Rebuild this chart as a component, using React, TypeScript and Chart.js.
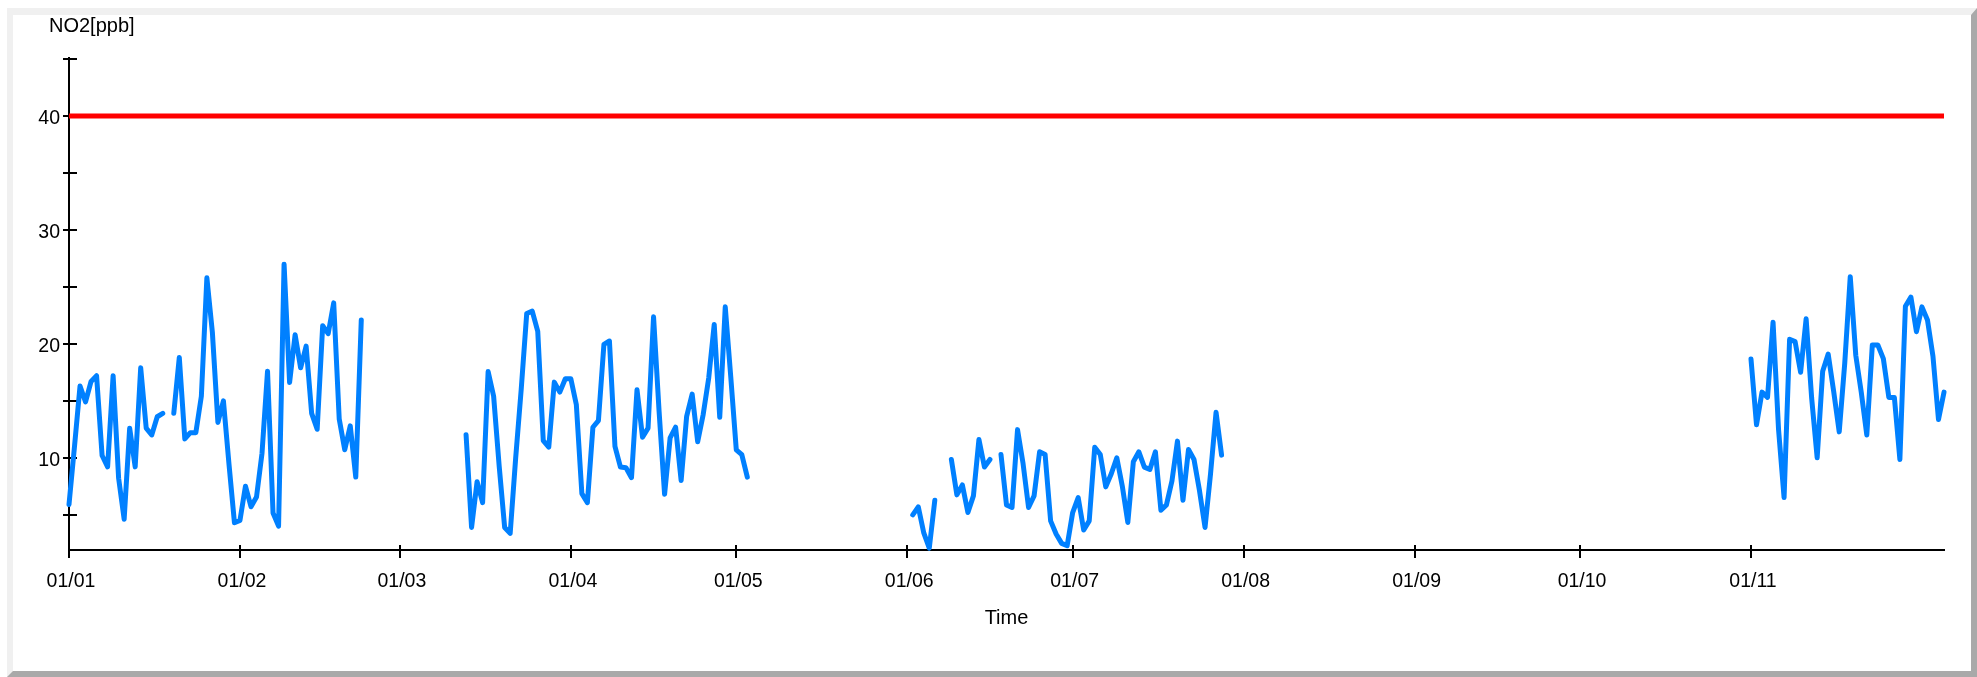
import { useEffect, useRef } from 'react';
import { Chart, registerables } from 'chart.js';

Chart.register(...registerables);

// ---- axis definitions ----
const monthStartDays = [0, 31, 60, 91, 121, 152, 182, 213, 244, 274, 305];
const monthLabels = ['01/01', '01/02', '01/03', '01/04', '01/05', '01/06', '01/07', '01/08', '01/09', '01/10', '01/11'];
const yTickValues = [5, 10, 15, 20, 25, 30, 35, 40, 45];
const yMin = 1.9;
const yMax = 45.1;
const lastDay = 340;
const limitValue = 40;

// ---- NO2 daily values (day index from 01/01), in contiguous segments ----
const segmentStarts = [0, 19, 72, 153, 160, 169, 305];

const segJan = [5.9, 11.0, 16.3, 14.9, 16.7, 17.2, 10.2, 9.2, 17.2, 8.2, 4.6, 12.6, 9.2, 17.9, 12.6, 12.0, 13.6, 13.9];
const segJanMar = [13.9, 18.8, 11.65, 12.2, 12.2, 15.4, 25.8, 21.0, 13.1, 15.0, 9.5, 4.3, 4.5, 7.5, 5.7, 6.55, 10.4, 17.6, 5.15, 4.0,
  27.0, 16.6, 20.8, 17.9, 19.8, 13.9, 12.5, 21.6, 20.9, 23.6, 13.4, 10.7, 12.8, 8.3, 22.1];
const segMarMay = [12.03, 3.88, 7.9, 6.06, 17.57, 15.4, 9.3, 3.88, 3.36, 10.0,
  16.0, 22.67, 22.87, 21.1, 11.5, 10.93, 16.64, 15.76, 16.93, 16.93,
  14.65, 6.85, 6.06, 12.68, 13.26, 19.96, 20.25, 11.0, 9.18, 9.12,
  8.25, 15.97, 11.8, 12.6, 22.37, 14.1, 6.79, 11.74, 12.68, 8.01,
  13.64, 15.59, 11.4, 13.8, 17.0, 21.7, 13.55, 23.25, 17.1, 10.7,
  10.28, 8.3];
const segJun1 = [4.99, 5.69, 3.4, 2.07, 6.27];
const segJun2 = [9.85, 6.74, 7.61, 5.19, 6.65, 11.6, 9.18, 9.85];
const segJunJul = [10.29, 5.86, 5.63, 12.47, 9.5, 5.63, 6.65, 10.52, 10.29, 4.46,
  3.3, 2.48, 2.28, 5.19, 6.5, 3.65, 4.46, 10.93, 10.29, 7.44,
  8.6, 10.0, 7.5, 4.32, 9.65, 10.52, 9.18, 8.97, 10.52, 5.39,
  5.86, 7.96, 11.46, 6.27, 10.72, 9.85, 7.1, 3.88, 8.6, 14.0,
  10.23];
const segNovDec = [18.67, 12.9, 15.76, 15.3, 21.9, 12.47, 6.5, 20.4, 20.2, 17.5,
  22.2, 15.24, 10.0, 17.6, 19.1, 15.8, 12.27, 18.3, 25.9, 19.0,
  15.75, 12.0, 19.9, 19.9, 18.7, 15.3, 15.3, 9.85, 23.3, 24.1,
  21.07, 23.25, 22.1, 18.9, 13.35, 15.76];

const segmentValues = [segJan, segJanMar, segMarMay, segJun1, segJun2, segJunJul, segNovDec];

function buildPoints() {
  const pts: any[] = [];
  segmentStarts.forEach((start, i) => {
    if (i > 0) pts.push({ x: start - 0.5, y: null });
    segmentValues[i].forEach((v, j) => pts.push({ x: start + j, y: v }));
  });
  return pts;
}

const FONT = '"Liberation Sans", Arial, Helvetica, sans-serif';

const axisDecor = {
  id: 'axisDecor',
  beforeDatasetsDraw(chart: any) {
    const { ctx, chartArea, scales } = chart;
    const xs = scales.x;
    const ys = scales.y;
    ctx.save();
    ctx.strokeStyle = '#000';
    ctx.lineWidth = 2;
    ctx.beginPath();
    yTickValues.forEach((v) => {
      const py = Math.round(ys.getPixelForValue(v));
      ctx.moveTo(chartArea.left - 6, py);
      ctx.lineTo(chartArea.left + 8, py);
    });
    monthStartDays.forEach((d) => {
      const px = Math.round(xs.getPixelForValue(d));
      ctx.moveTo(px, chartArea.bottom - 5);
      ctx.lineTo(px, chartArea.bottom + 8);
    });
    ctx.stroke();
    ctx.restore();
  },
  afterDraw(chart: any) {
    const { ctx, chartArea } = chart;
    ctx.save();
    ctx.fillStyle = '#000';
    ctx.font = '20px ' + FONT;
    ctx.textAlign = 'left';
    ctx.textBaseline = 'alphabetic';
    ctx.fillText('NO2[ppb]', chartArea.left - 20, chartArea.top - 26.5);
    ctx.restore();
  },
};

export default function App() {
  const canvasRef = useRef<HTMLCanvasElement | null>(null);

  useEffect(() => {
    if (!canvasRef.current) return;
    const chart = new Chart(canvasRef.current, {
      type: 'line',
      data: {
        datasets: [
          {
            label: 'NO2',
            data: buildPoints(),
            borderColor: '#0080ff',
            backgroundColor: '#0080ff',
            borderWidth: 5,
            pointRadius: 0,
            borderJoinStyle: 'round',
            borderCapStyle: 'round',
            spanGaps: false,
            tension: 0,
            clip: false,
          } as any,
          {
            label: 'Limit',
            data: [{ x: 0, y: limitValue }, { x: lastDay, y: limitValue }],
            borderColor: '#ff0000',
            backgroundColor: '#ff0000',
            borderWidth: 5,
            pointRadius: 0,
            borderCapStyle: 'butt',
            clip: false,
          } as any,
        ],
      },
      options: {
        animation: false,
        responsive: true,
        maintainAspectRatio: false,
        layout: { padding: { left: 29, top: 58, right: 33, bottom: 47 } },
        plugins: {
          legend: { display: false },
          tooltip: { enabled: false },
          title: { display: false },
        },
        scales: {
          x: {
            type: 'linear',
            min: 0,
            max: lastDay,
            grid: { display: false, drawTicks: false },
            border: { display: true, color: '#000', width: 2 },
            afterBuildTicks: (scale: any) => {
              scale.ticks = monthStartDays.map((v) => ({ value: v }));
            },
            afterFit: (scale: any) => {
              scale.height = 80;
            },
            ticks: {
              autoSkip: false,
              maxRotation: 0,
              minRotation: 0,
              padding: 20,
              labelOffset: 2,
              color: '#000',
              font: { family: FONT, size: 19.5 },
              callback: (value: any) => {
                const idx = monthStartDays.indexOf(Number(value));
                return idx >= 0 ? monthLabels[idx] : '';
              },
            },
            title: {
              display: true,
              text: 'Time',
              color: '#000',
              font: { family: FONT, size: 20 },
              padding: { top: 0, bottom: 0 },
            },
          },
          y: {
            type: 'linear',
            min: yMin,
            max: yMax,
            grid: { display: false, drawTicks: false },
            border: { display: true, color: '#000', width: 2 },
            afterBuildTicks: (scale: any) => {
              scale.ticks = yTickValues.map((v) => ({ value: v }));
            },
            afterFit: (scale: any) => {
              scale.width = 40;
            },
            ticks: {
              autoSkip: false,
              padding: 9,
              labelOffset: 3,
              color: '#000',
              font: { family: FONT, size: 19.5 },
              callback: (value: any) => (Number(value) % 10 === 0 ? String(value) : ''),
            },
          },
        },
      } as any,
      plugins: [axisDecor],
    });
    return () => chart.destroy();
  }, []);

  return (
    <>
      <div
        style={{
          position: 'absolute',
          left: 7,
          top: 8,
          right: 0,
          bottom: 0,
          boxSizing: 'border-box',
          borderStyle: 'solid',
          borderWidth: '7px 6px 6px 6px',
          borderColor: '#f0f0f0 #a9a9a9 #a9a9a9 #f0f0f0',
          background: '#fff',
        }}
      />
      <div style={{ position: 'absolute', left: 0, top: 0, width: 1977, height: 677 }}>
        <canvas ref={canvasRef} />
      </div>
    </>
  );
}
